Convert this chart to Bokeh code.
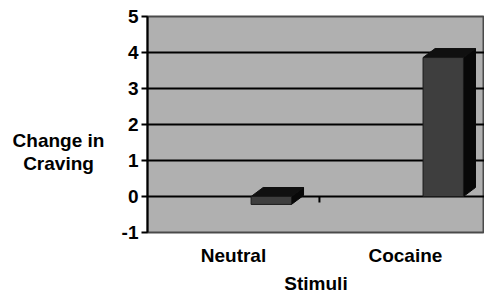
from bokeh.plotting import figure
from bokeh.layouts import row
from bokeh.models import Range1d, FixedTicker, ColumnDataSource
from bokeh.core.properties import value
from bokeh.embed import file_html
from bokeh.resources import INLINE

categories = ["Neutral", "Cocaine"]
values = [-0.22, 3.86]
y_ticks = [-1, 0, 1, 2, 3, 4, 5]
grid_ticks = [0, 1, 2, 3, 4]
y_title = ["Change in", "Craving"]
x_title = "Stimuli"

FONT = "Liberation Sans"
BAR_OFF = 0.22     # bar face shift (3-D perspective) in category units
BAR_W = 0.235
DX = 0.07          # depth offset x
DY = 0.25          # depth offset y
W, H = 484, 302
LW = 110           # width of the panel holding the y title
TOP, BOTTOM = 16, 70

# --- left panel with the horizontal y-axis title (frame aligned with main frame) ---
t = figure(width=LW, height=H, output_backend="svg", toolbar_location=None,
           x_range=Range1d(0, LW), y_range=Range1d(H - BOTTOM, TOP),
           min_border_left=0, min_border_right=0, min_border_top=TOP,
           min_border_bottom=BOTTOM, x_axis_type=None, y_axis_type=None)
t.outline_line_color = None
t.xgrid.visible = False
t.ygrid.visible = False
t.background_fill_color = "white"
t.text(x=[58] * len(y_title), y=[140 + 23 * i for i in range(len(y_title))],
       text=y_title, text_align="center", text_baseline="middle",
       text_font=value(FONT), text_font_style="bold", text_font_size="19px",
       text_color="black")

# --- main chart ---
p = figure(width=W - LW, height=H, output_backend="svg", toolbar_location=None,
           x_range=Range1d(0.5, 2.46), y_range=Range1d(-1, 5),
           min_border_left=147 - LW, min_border_right=0, min_border_top=TOP,
           min_border_bottom=BOTTOM)
p.background_fill_color = "#b0b0b0"
p.border_fill_color = "white"
p.outline_line_color = "#4a4a4a"
p.outline_line_width = 2

p.xgrid.visible = False
p.ygrid.ticker = FixedTicker(ticks=grid_ticks)
p.ygrid.grid_line_color = "black"
p.ygrid.grid_line_width = 2

p.yaxis.ticker = FixedTicker(ticks=y_ticks)
p.yaxis.major_label_overrides = {t_: str(t_) for t_ in y_ticks}
p.yaxis.axis_line_color = "black"
p.yaxis.axis_line_width = 2
p.yaxis.major_tick_line_width = 2
p.yaxis.major_tick_out = 6
p.yaxis.major_tick_in = 0
p.yaxis.minor_tick_line_color = None
p.yaxis.major_label_text_font = FONT
p.yaxis.major_label_text_font_style = "bold"
p.yaxis.major_label_text_font_size = "19px"
p.yaxis.major_label_text_color = "black"
p.yaxis.major_label_standoff = 3

xs = list(range(1, len(categories) + 1))
p.xaxis.ticker = FixedTicker(ticks=xs)
p.xaxis.major_label_overrides = {x: c for x, c in zip(xs, categories)}
p.xaxis.axis_line_color = None
p.xaxis.major_tick_line_color = None
p.xaxis.minor_tick_line_color = None
p.xaxis.major_label_standoff = 6
p.xaxis.major_label_text_font = FONT
p.xaxis.major_label_text_font_style = "bold"
p.xaxis.major_label_text_font_size = "19px"
p.xaxis.major_label_text_color = "black"
p.xaxis.axis_label = x_title
p.xaxis.axis_label_text_font = FONT
p.xaxis.axis_label_text_font_style = "bold"
p.xaxis.axis_label_text_font_size = "19px"
p.xaxis.axis_label_text_color = "black"
p.xaxis.axis_label_standoff = 4

# 3-D bars
front = dict(l=[], r=[], b=[], t=[])
tops_x, tops_y, side_x, side_y = [], [], [], []
for x, v in zip(xs, values):
    L = x + BAR_OFF - BAR_W / 2
    R = x + BAR_OFF + BAR_W / 2
    b, tp = min(0, v), max(0, v)
    front["l"].append(L); front["r"].append(R)
    front["b"].append(b); front["t"].append(tp)
    tops_x.append([L, L + DX, R + DX, R])
    tops_y.append([tp, tp + DY, tp + DY, tp])
    side_x.append([R, R + DX, R + DX, R])
    side_y.append([b, b + DY, tp + DY, tp])

p.patches(side_x, side_y, fill_color="#080808", line_color="#080808")
p.patches(tops_x, tops_y, fill_color="#101010", line_color="#101010")
p.quad(left="l", right="r", bottom="b", top="t", source=ColumnDataSource(front),
       fill_color="#3e3e3e", line_color="#1a1a1a", line_width=1)

# small floor tick between categories
mid = (xs[0] + xs[1]) / 2
p.segment(x0=[mid], y0=[0], x1=[mid], y1=[-0.17], line_color="black", line_width=2)

layout = row(t, p, spacing=0)
open("out.html", "w").write(file_html(layout, INLINE))
